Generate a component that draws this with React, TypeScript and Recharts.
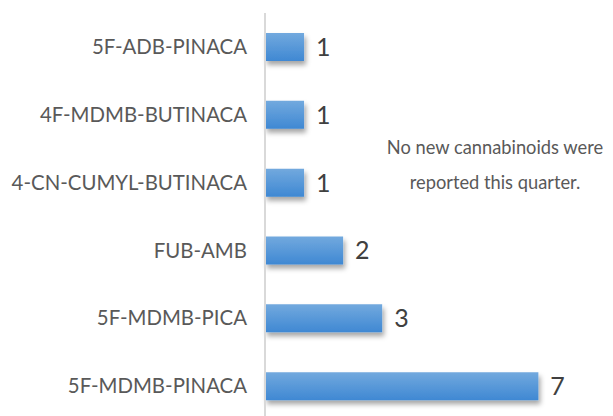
import { BarChart, Bar, XAxis, YAxis, LabelList } from 'recharts';

const substances = ['5F-ADB-PINACA', '4F-MDMB-BUTINACA', '4-CN-CUMYL-BUTINACA', 'FUB-AMB', '5F-MDMB-PICA', '5F-MDMB-PINACA'];
const reports = [1, 1, 1, 2, 3, 7];
const note = ['No new cannabinoids were', 'reported this quarter.'];

const data = substances.map((name, i) => ({ name, value: reports[i] }));

export default function App() {
  return (
    <div style={{ position: 'relative', width: 605, height: 420, fontFamily: 'Lato, sans-serif' }}>
      <BarChart
        width={605}
        height={420}
        data={data}
        layout="vertical"
        margin={{ top: 5, right: 18, bottom: 8, left: 0 }}
        barCategoryGap={20}
      >
        <defs>
          <linearGradient id="barFill" x1="0" y1="0" x2="0" y2="1">
            <stop offset="0%" stopColor="#72a9de" />
            <stop offset="100%" stopColor="#3f88d3" />
          </linearGradient>
          <filter id="shadow" x="-10%" y="-20%" width="130%" height="180%">
            <feDropShadow dx="2" dy="4" stdDeviation="2.5" floodColor="#000" floodOpacity="0.35" />
          </filter>
        </defs>
        <XAxis type="number" domain={[0, 8.45]} hide />
        <YAxis
          type="category"
          dataKey="name"
          width={257}
          axisLine={{ stroke: '#d9d9d9', strokeWidth: 2 }}
          tickLine={false}
          tickMargin={12}
          tick={{ fill: '#595959', fontSize: 20.4, fontFamily: 'Lato, sans-serif' }}
        />
        <Bar dataKey="value" barSize={28} fill="url(#barFill)" filter="url(#shadow)" isAnimationActive={false}>
          <LabelList dataKey="value" position="right" offset={12} fill="#404040" fontSize={25} fontFamily="Lato, sans-serif" />
        </Bar>
      </BarChart>
      <div
        style={{
          position: 'absolute',
          left: 367,
          top: 122,
          width: 240,
          textAlign: 'center',
          color: '#595959',
          fontSize: 18.3,
          lineHeight: '35px',
          whiteSpace: 'nowrap',
        }}
      >
        {note.map((line) => (
          <div key={line}>{line}</div>
        ))}
      </div>
    </div>
  );
}
